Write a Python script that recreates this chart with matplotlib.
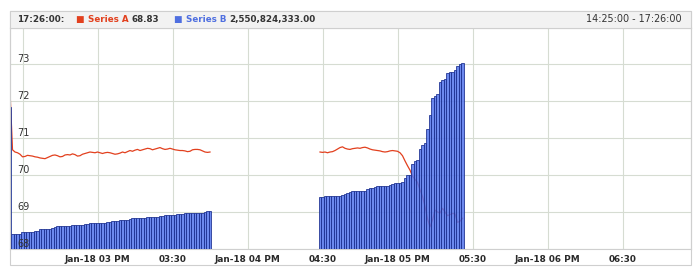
import pandas as pd
import matplotlib
matplotlib.use('Agg')
import matplotlib.pyplot as plt
import matplotlib.dates as mdates
from matplotlib.patches import Rectangle

# Series A, one value per minute, two sessions (14:25-15:45 and 16:29-17:26)
a_first = [72.27, 70.68, 70.62, 70.60, 70.56, 70.49, 70.50, 70.53, 70.52, 70.51,
           70.49, 70.48, 70.46, 70.45, 70.44, 70.47, 70.50, 70.53, 70.54, 70.52,
           70.49, 70.50, 70.54, 70.55, 70.54, 70.57, 70.55, 70.51, 70.52, 70.56,
           70.58, 70.60, 70.62, 70.61, 70.60, 70.62, 70.60, 70.58, 70.60, 70.61,
           70.60, 70.58, 70.56, 70.57, 70.59, 70.62, 70.60, 70.63, 70.66, 70.64,
           70.67, 70.69, 70.66, 70.68, 70.70, 70.72, 70.71, 70.68, 70.70, 70.72,
           70.74, 70.71, 70.69, 70.70, 70.72, 70.70, 70.68, 70.67, 70.66, 70.66,
           70.65, 70.63, 70.64, 70.68, 70.69, 70.69, 70.68, 70.65, 70.62, 70.61,
           70.62]
a_second = [70.62, 70.61, 70.62, 70.60, 70.62, 70.63, 70.66, 70.70, 70.74, 70.76,
            70.72, 70.70, 70.69, 70.71, 70.72, 70.73, 70.72, 70.74, 70.75, 70.73,
            70.70, 70.68, 70.67, 70.66, 70.65, 70.63, 70.62, 70.63, 70.65, 70.66,
            70.65, 70.64, 70.60, 70.52, 70.38, 70.25, 70.13, 69.97, 69.88, 69.80,
            69.60, 69.42, 69.15, 68.82, 68.60, 68.78, 69.05, 69.00, 68.97, 69.10,
            69.00, 68.90, 68.93, 68.96, 68.95, 68.72, 68.75, 68.83]

# Series B in billions, same minutes
b_first = [1.95, 0.20, 0.20, 0.20, 0.20, 0.23, 0.23, 0.23, 0.23, 0.23,
           0.24, 0.25, 0.27, 0.28, 0.28, 0.28, 0.28, 0.29, 0.30, 0.31,
           0.31, 0.31, 0.31, 0.31, 0.32, 0.33, 0.33, 0.33, 0.33, 0.33,
           0.34, 0.34, 0.35, 0.35, 0.35, 0.35, 0.36, 0.36, 0.36, 0.37,
           0.37, 0.38, 0.38, 0.38, 0.40, 0.40, 0.40, 0.40, 0.41, 0.42,
           0.42, 0.42, 0.42, 0.43, 0.43, 0.44, 0.44, 0.44, 0.44, 0.44,
           0.45, 0.45, 0.46, 0.46, 0.46, 0.47, 0.47, 0.48, 0.48, 0.48,
           0.49, 0.49, 0.50, 0.50, 0.50, 0.50, 0.50, 0.50, 0.51, 0.52,
           0.52]
b_second = [0.71, 0.71, 0.72, 0.72, 0.72, 0.72, 0.72, 0.73, 0.73, 0.74,
            0.76, 0.77, 0.78, 0.79, 0.79, 0.79, 0.80, 0.80, 0.80, 0.82,
            0.83, 0.83, 0.85, 0.86, 0.86, 0.86, 0.86, 0.87, 0.88, 0.89,
            0.90, 0.90, 0.90, 0.92, 0.97, 1.01, 1.02, 1.17, 1.20, 1.22,
            1.37, 1.43, 1.46, 1.64, 1.84, 2.07, 2.10, 2.13, 2.29, 2.32,
            2.33, 2.41, 2.42, 2.43, 2.45, 2.51, 2.54, 2.5508]

first_start = '2013-01-18 14:25:00'
second_start = '2013-01-18 16:29:00'
x_range = ['2013-01-18 14:25:00', '2013-01-18 18:57:24']
x_ticks = ['14:30', '15:00', '15:30', '16:00', '16:30', '17:00', '17:30', '18:00', '18:30']
x_labels = ['', 'Jan-18 03 PM', '03:30', 'Jan-18 04 PM', '04:30',
            'Jan-18 05 PM', '05:30', 'Jan-18 06 PM', '06:30']
y_ticks = [68, 69, 70, 71, 72, 73]
y_range = [68, 73.97]
b_range = [0, 3.03]

header_time = '17:26:00:'
name_a, name_b = 'Series A', 'Series B'
value_a, value_b = '68.83', '2,550,824,333.00'
header_range = '14:25:00 - 17:26:00'

RED = '#e2401e'
BLUE = '#4f6fe0'
GRID = '#d6dcd2'
FRAME = '#cfcfcf'
TXT = '#333333'

W, H = 700, 280
fig = plt.figure(figsize=(W / 100, H / 100), dpi=100)
fig.patch.set_facecolor('white')

t1 = mdates.date2num(pd.date_range(first_start, periods=len(a_first), freq='min'))
t2 = mdates.date2num(pd.date_range(second_start, periods=len(a_second), freq='min'))
minute = 1 / 1440

rect = [10 / W, 1 - 249 / H, 681 / W, 221 / H]
ax = fig.add_axes(rect)
ax.plot(t1, a_first, color=RED, lw=0.9)
ax.plot(t2, a_second, color=RED, lw=0.9)
ax.set_xlim(mdates.date2num(pd.to_datetime(x_range, format='%Y-%m-%d %H:%M:%S')))
ax.set_ylim(y_range)
ax.set_yticks(y_ticks)
ax.set_yticklabels([])
tick_pos = mdates.date2num(pd.to_datetime(['2013-01-18 ' + t for t in x_ticks],
                                          format='%Y-%m-%d %H:%M'))
ax.set_xticks(tick_pos)
ax.set_xticklabels(x_labels, fontsize=6.4, fontweight='bold', color='#2a2a2a')
ax.tick_params(axis='both', length=0)
ax.tick_params(axis='x', pad=4)
ax.grid(True, color=GRID, lw=0.8)
for s in ax.spines.values():
    s.set_color(FRAME)
    s.set_linewidth(0.8)

# volume bars on their own hidden scale, drawn over the line
ax2 = ax.twinx()
ax2.bar(t1, b_first, width=minute, color='#5274ec', edgecolor='#182c8c', lw=0.65, alpha=0.85)
ax2.bar(t2, b_second, width=minute, color='#5274ec', edgecolor='#182c8c', lw=0.65, alpha=0.85)
ax2.set_ylim(b_range)
ax2.set_yticks([])
for s in ax2.spines.values():
    s.set_visible(False)

# value labels inside the plot, on top of everything
ax3 = ax.twinx()
ax3.set_ylim(y_range)
ax3.yaxis.set_ticks_position('left')
ax3.set_yticks(y_ticks)
ax3.set_yticklabels([str(v) for v in y_ticks], fontsize=7, color=TXT)
ax3.tick_params(axis='y', length=0, pad=-5.5)
for lbl in ax3.get_yticklabels():
    lbl.set_horizontalalignment('left')
    lbl.set_verticalalignment('bottom')
for s in ax3.spines.values():
    s.set_visible(False)

# outer frame and header strip
fig.add_artist(Rectangle((10 / W, 1 - 265 / H), 681 / W, 254 / H, transform=fig.transFigure,
                         facecolor='none', edgecolor=FRAME, lw=0.8))
fig.add_artist(Rectangle((10 / W, 1 - 28 / H), 681 / W, 17 / H, transform=fig.transFigure,
                         facecolor='#f2f2f2', edgecolor=FRAME, lw=0.8))

renderer = fig.canvas.get_renderer()
hy = 1 - 19.5 / H


def put(x, s, color, weight='bold', size=6.3):
    t = fig.text(x / W, hy, s, color=color, fontsize=size, fontweight=weight,
                 ha='left', va='center')
    return t.get_window_extent(renderer).x1


x = put(17, header_time, TXT)
x = put(x + 11, '\u25a0', RED, size=6.5)
x = put(x + 4, name_a, RED)
x = put(x + 3, value_a, TXT)
x = put(x + 14, '\u25a0', BLUE, size=6.5)
x = put(x + 4, name_b, BLUE)
x = put(x + 3, value_b, TXT)
fig.text(682 / W, hy, header_range, color=TXT, fontsize=6.9, ha='right', va='center')

fig.savefig('out.png', dpi=100)
